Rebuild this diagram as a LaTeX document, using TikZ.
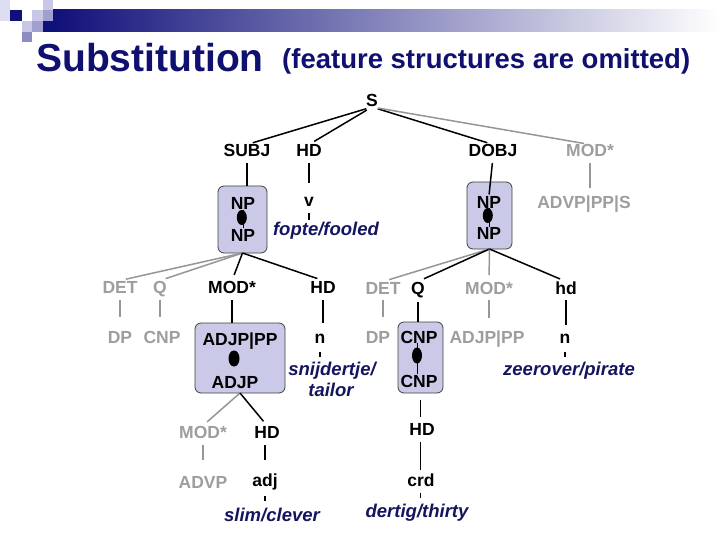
\documentclass[tikz,border=0pt]{standalone}
\usepackage{fontspec}
\setmainfont{Liberation Sans}
\definecolor{navyT}{RGB}{16,16,112}
\definecolor{navyW}{RGB}{20,20,96}
\definecolor{lav}{RGB}{202,202,232}
\definecolor{gtext}{RGB}{158,158,158}
\definecolor{gline}{RGB}{150,150,150}
\definecolor{sqA}{RGB}{222,222,242}
\definecolor{sqB}{RGB}{200,200,230}
\definecolor{sqC}{RGB}{160,160,208}
\definecolor{sqD}{RGB}{140,140,192}
\definecolor{sqN}{RGB}{16,16,122}
\begin{document}
\begin{tikzpicture}[x=1pt,y=-1pt,
  lab/.style={font=\fontsize{17.5}{18}\selectfont\bfseries, inner sep=0pt, outer sep=0pt,
    text height=12.5pt, text depth=0pt, anchor=base},
  glab/.style={lab, text=gtext},
  word/.style={font=\fontsize{18.5}{20}\selectfont\bfseries\itshape, text=navyW, inner sep=0pt,
    outer sep=0pt, text height=13.5pt, text depth=0pt, anchor=base},
  box/.style={draw=black!75, line width=0.8pt, fill=lav, rounded corners=6pt, inner sep=0pt, outer sep=0pt},
  edge/.style={line width=1.5pt, black, shorten <=6pt, shorten >=6pt},
  gedge/.style={edge, gline},
  tick/.style={line width=1.2pt, black},
  bead/.style={fill=black}
]
\useasboundingbox (0,0) rectangle (720,540);
\fill[white] (0,0) rectangle (720,540);
% decorative header
\shade[left color=sqN, right color=white] (53,10) rectangle (720,32);
\fill[sqA] (0,0) rectangle (10,21);
\fill[sqN] (10,10) rectangle (22,21);
\fill[sqB] (22,21) rectangle (32,32);
\fill[sqD] (22,32) rectangle (32,42);
\fill[sqB] (32,10) rectangle (43,21);
\fill[sqC] (32,21) rectangle (43,32);
\fill[sqB] (43,0) rectangle (53,10);
\fill[sqC] (43,10) rectangle (53,21);
\fill[sqN] (43,21) rectangle (53.5,32);
% title
\node[anchor=base west, inner sep=0pt, font=\fontsize{39}{40}\selectfont\bfseries, text=navyT] (t1) at (36,72) {Substitution};
\node[anchor=base west, inner sep=0pt, font=\fontsize{27.5}{28}\selectfont\bfseries, text=navyT] (t2) at (282,69) {(feature structures are omitted)};

% level 0
\node[lab] (S) at (372,107) {S};
\node[lab] (subj) at (247,157) {SUBJ};
\node[lab] (hd0) at (309,157) {HD};
\node[lab] (dobj) at (493,157) {DOBJ};
\node[glab] (mod0) at (590,157) {MOD*};
\draw[edge] (S.south) -- (subj.north);
\draw[edge] (S.south) -- (hd0.north);
\draw[edge] (S.south) -- (dobj.north);
\draw[gedge] (S.south) -- (mod0.north);

% boxes
\node[box, minimum width=49pt, minimum height=67pt] (B1) at (242.5,219.5) {};
\node[box, minimum width=45pt, minimum height=67pt] (B2) at (489.5,215.5) {};
\node[box, minimum width=90pt, minimum height=70pt] (B3) at (240,358) {};
\node[box, minimum width=45pt, minimum height=71pt] (B4) at (420.5,357.5) {};

% box 1
\node[lab] (np1a) at (243,210) {NP};
\node[lab] (np1b) at (243,241) {NP};
\draw[line width=1pt] (np1a.south) -- (np1b.north);
\fill[bead] (241.8,217.5) ellipse (5pt and 7.5pt);
% box 2
\node[lab] (np2a) at (489,208) {NP};
\node[lab] (np2b) at (489,240) {NP};
\draw[line width=1pt] (np2a.south) -- (np2b.north);
\fill[bead] (487.8,215.5) ellipse (5pt and 7.5pt);
% box 3
\node[lab] (adjpp1) at (240,345) {ADJP|PP};
\node[lab] (adjp1) at (235,388) {ADJP};
\draw[line width=1pt] (adjp1.north -| 234,345) -- (adjp1.north -| 234,375);
\fill[bead] (234,358.5) ellipse (5.5pt and 8pt);
% box 4
\node[lab] (cnp2a) at (419,343) {CNP};
\node[lab] (cnp2b) at (419,387) {CNP};
\draw[line width=1pt] (417,343) -- (417,374);
\fill[bead] (417,355.5) ellipse (5pt and 8pt);

% level 1
\node[lab] (v) at (309,207) {v};
\node[word] (fopte) at (326,236) {fopte/fooled};
\node[glab] (advpps) at (584,208) {ADVP|PP|S};
\draw[edge, shorten >=0pt] (subj.south) -- (subj.south |- B1.north);
\draw[edge, shorten >=11pt] (hd0.south) -- (v.north);
\draw[edge, shorten >=1pt] (dobj.south) -- (np2a.north);
\draw[gedge, shorten >=7.5pt] (mod0.south) -- (mod0.south |- advpps.north);
\draw[tick, shorten <=6pt, shorten >=2.5pt] (v.south) -- (v.south |- fopte.north);

% level 2 left
\node[glab] (det1) at (120,293) {DET};
\node[glab] (q1) at (160,293) {Q};
\node[lab] (mod1) at (232,293) {MOD*};
\node[lab] (hd1) at (323,293) {HD};
\draw[gedge, shorten <=0pt] (B1.south) -- (det1.north);
\draw[gedge, shorten <=0pt] (B1.south) -- (q1.north);
\draw[edge, shorten <=0pt] (B1.south) -- (mod1.north);
\draw[edge, shorten <=0pt] (B1.south) -- (hd1.north);
\node[glab] (dp1) at (120,343) {DP};
\node[glab] (cnp1) at (162,343) {CNP};
\node[lab] (n1) at (320,343) {n};
\node[word] (snij) at (332,375) {snijdertje/};
\node[word] (tailor) at (331,396) {tailor};
\draw[gedge, shorten <=7pt, shorten >=13.5pt] (det1.south) -- (det1.south |- dp1.north);
\draw[gedge, shorten <=7pt, shorten >=13.5pt] (q1.south) -- (q1.south |- cnp1.north);
\draw[edge, shorten <=7pt, shorten >=0pt] (mod1.south) -- (mod1.south |- B3.north);
\draw[edge, shorten <=7pt, shorten >=7.5pt] (hd1.south) -- (hd1.south |- n1.north);
\draw[tick, shorten <=9pt, shorten >=4.5pt] (n1.south) -- (n1.south |- snij.north);

% level 2 right
\node[glab] (det2) at (383,294) {DET};
\node[lab] (q2) at (418,294) {Q};
\node[glab] (mod2) at (489,294) {MOD*};
\node[lab] (hd2) at (566,294) {hd};
\draw[gedge, shorten <=0pt, shorten >=6.5pt] (B2.south) -- (det2.north);
\draw[edge, shorten <=0pt, shorten >=6.5pt] (B2.south) -- (q2.north);
\draw[gedge, shorten <=0pt, shorten >=6.5pt] (B2.south) -- (mod2.north);
\draw[edge, shorten <=0pt, shorten >=6.5pt] (B2.south) -- (hd2.north);
\node[glab] (dp2) at (378,343) {DP};
\node[glab] (adjpp2) at (487,343) {ADJP|PP};
\node[lab] (n2) at (565,343) {n};
\node[word] (zee) at (569,375) {zeerover/pirate};
\draw[gedge, shorten <=6pt, shorten >=13.5pt] (det2.south) -- (det2.south |- dp2.north);
\draw[edge, shorten <=8pt, shorten >=0pt] (q2.south) -- (q2.south |- B4.north);
\draw[gedge, shorten <=6pt, shorten >=12.5pt] (mod2.south) -- (mod2.south |- adjpp2.north);
\draw[edge, shorten <=6pt, shorten >=6pt] (hd2.south) -- (hd2.south |- n2.north);
\draw[tick, shorten <=9pt, shorten >=4.5pt] (n2.south) -- (n2.south |- zee.north);

% level 3 left
\node[glab] (mod3) at (203,438) {MOD*};
\node[lab] (hd3) at (267,438) {HD};
\draw[gedge, shorten <=0pt, shorten >=5.5pt] (B3.south) -- (mod3.north);
\draw[edge, shorten <=0pt, shorten >=5.5pt] (B3.south) -- (hd3.north);
\node[glab] (advp) at (203,488) {ADVP};
\node[lab] (adj) at (265,486) {adj};
\node[word] (slim) at (272,521) {slim/clever};
\draw[gedge, shorten <=7pt, shorten >=15.5pt] (mod3.south) -- (mod3.south |- advp.north);
\draw[edge, shorten <=7pt, shorten >=13.5pt] (hd3.south -| adj.south) -- (adj.north);
\draw[tick, shorten <=10pt, shorten >=6.5pt] (adj.south) -- (adj.south |- slim.north);

% level 3 right
\node[lab] (hd4) at (422,435) {HD};
\node[lab] (crd) at (421,486) {crd};
\node[word] (dertig) at (417,517) {dertig/thirty};
\draw[edge, shorten <=7pt, shorten >=5.5pt] (B4.south) -- (B4.south |- hd4.north);
\draw[edge, shorten <=7pt, shorten >=3.5pt] (hd4.south -| B4.south) -- (B4.south |- crd.north);
\draw[tick, shorten <=7pt, shorten >=5.5pt] (crd.south -| B4.south) -- (B4.south |- dertig.north);
\end{tikzpicture}
\end{document}
